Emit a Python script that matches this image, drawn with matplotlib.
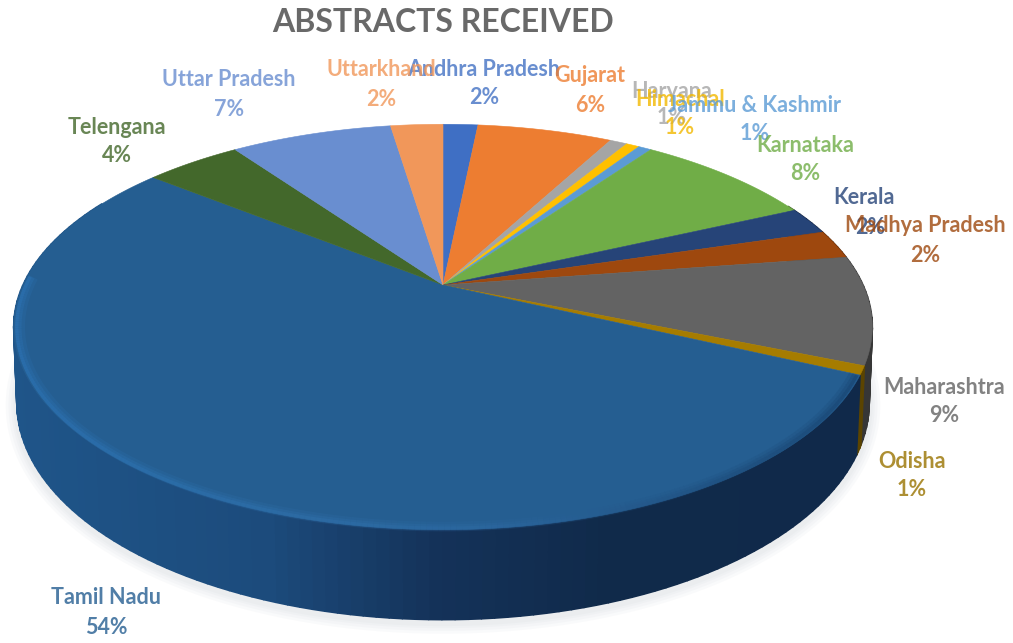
# Abstracts received by state - tilted 3D style pie
import numpy as np
import matplotlib
matplotlib.use("Agg")
import matplotlib.pyplot as plt
from matplotlib.collections import PolyCollection, LineCollection
from matplotlib.colors import LinearSegmentedColormap

states = ["Andhra Pradesh", "Gujarat", "Haryana", "Himachal", "Jammu & Kashmir",
          "Karnataka", "Kerala", "Madhya Pradesh", "Maharashtra", "Odisha",
          "Tamil Nadu", "Telengana", "Uttar Pradesh", "Uttarkhand"]
shares = [1.6, 6.2, 0.8, 0.6, 0.6, 8.3, 2.2, 2.3, 8.6, 0.7, 53.7, 4.4, 7.4, 2.4]
colors = ["#3F6FC4", "#ED7D31", "#A5A5A5", "#FFC000", "#5B9BD5", "#70AD47", "#264478",
          "#9E480E", "#636363", "#A67C00", "#255E91", "#43682B", "#698ED0", "#F1975A"]
text_colors = ["#4472C4", "#ED7D31", "#A5A5A5", "#F2B800", "#5B9BD5", "#70AD47", "#264478",
               "#9E480E", "#636363", "#997300", "#255E91", "#43682B", "#698ED0", "#F1975A"]
label_xy = [(484, 70), (590, 76), (672, 92), (680, 100), (755, 105), (805, 145), (864, 198),
            (925, 226), (944, 387), (912, 461), (106, 598), (117, 127), (229, 80), (381, 70)]
pct_xy = [(484, 98), (590, 105), (672, 118), (680, 128), (755, 134), (805, 173), (870, 227),
          (925, 255), (944, 416), (912, 490), (106, 628), (117, 156), (229, 109), (381, 99)]

# pie centre and tilt, in image pixels
cx, cy, rx, ry, k = 443, 285, 420, 194, 0.207

def rim(theta):
    u, v = np.sin(theta), np.cos(theta)
    return cx + rx * u / (1 + k * v), cy - ry * v / (1 + k * v)

def lower(theta):
    x, y = rim(theta)
    v = np.cos(theta)
    return cx + (x - cx) * (1 - 0.006 * (1 - v)), y + 73 - 17 * v

fig = plt.figure(figsize=(10.13, 6.43), dpi=100)
ax = fig.add_axes([0, 0, 1, 1])
ax.set_xlim(0, 1013)
ax.set_ylim(643, 0)
ax.axis("off")

fracs = np.array(shares) / sum(shares)
edges = np.concatenate([[0], np.cumsum(fracs)]) * 2 * np.pi
side_cmap = LinearSegmentedColormap.from_list("side", [
    (0, "#1F5589"), (0.3, "#1C4B7C"), (0.5, "#143259"), (0.7, "#102A4A"), (1, "#10294A")])
bevel_cmap = LinearSegmentedColormap.from_list("bevel", [
    (0, "#2E78BC"), (0.35, "#3274B0"), (0.55, "#2F6CA6"), (0.85, "#1D4A78"), (1, "#17406C")])

# soft shadow under the pie
t = np.linspace(np.pi / 2, 3 * np.pi / 2, 200)
sx, sy = lower(t)
for lw in [16, 12, 8, 5]:
    ax.plot(sx, sy + 3, color="#B8BEC8", lw=lw, alpha=0.07, solid_capstyle="round", zorder=1)

# side wall
quads, quad_cols = [], []
for i in range(len(shares)):
    n = max(3, int(fracs[i] * 250))
    ts = np.linspace(edges[i], edges[i + 1], n + 1)
    for a, b in zip(ts[:-1], ts[1:]):
        if np.cos((a + b) / 2) > 0.45:
            continue
        xa, ya = rim(a)
        xb, yb = rim(b)
        la, ma = lower(a)
        lb, mb = lower(b)
        quads.append([(xa, ya), (xb, yb), (lb, mb), (la, ma)])
        if states[i] == "Tamil Nadu":
            quad_cols.append(side_cmap((xa - 12) / 860))
        else:
            quad_cols.append(tuple(0.55 * c for c in matplotlib.colors.to_rgb(colors[i])))
ax.add_collection(PolyCollection(quads, facecolors=quad_cols, edgecolors=quad_cols, lw=1.2, zorder=2))

# top face
for i, col in enumerate(colors):
    ts = np.linspace(edges[i], edges[i + 1], max(4, int(fracs[i] * 400)))
    x, y = rim(ts)
    ax.fill(np.r_[cx, x], np.r_[cy, y], color=col, lw=0.4, zorder=3)

# lighter bevel along the front of the Tamil Nadu slice, kept inside the rim
j = states.index("Tamil Nadu")
ts = np.linspace(edges[j], edges[j + 1], 300)
ts = ts[np.cos(ts) < 0.05]
x, y = rim(ts)
for shrink, lw, alpha in [(0.985, 7, 0.18), (0.989, 4.5, 0.25), (0.993, 2.5, 0.35)]:
    pts = np.column_stack([cx + (x - cx) * shrink, 325 + (y - 325) * shrink])
    segs = np.stack([pts[:-1], pts[1:]], axis=1)
    ax.add_collection(LineCollection(segs, colors=bevel_cmap((x[:-1] - 12) / 860), lw=lw,
                                     alpha=alpha, zorder=4))

# labels
for i, name in enumerate(states):
    for txt, xy in [(name, label_xy[i]), (f"{round(shares[i])}%", pct_xy[i])]:
        ax.text(xy[0], xy[1], txt, color=text_colors[i], fontsize=15.5, family="Lato",
                fontweight="bold", ha="center", va="center", alpha=0.8, zorder=5)

ax.text(443, 22, "ABSTRACTS RECEIVED", color="#595959", fontsize=23, family="Lato",
        fontweight="bold", ha="center", va="center", alpha=0.9, zorder=5)

fig.savefig("out.png", dpi=100)
